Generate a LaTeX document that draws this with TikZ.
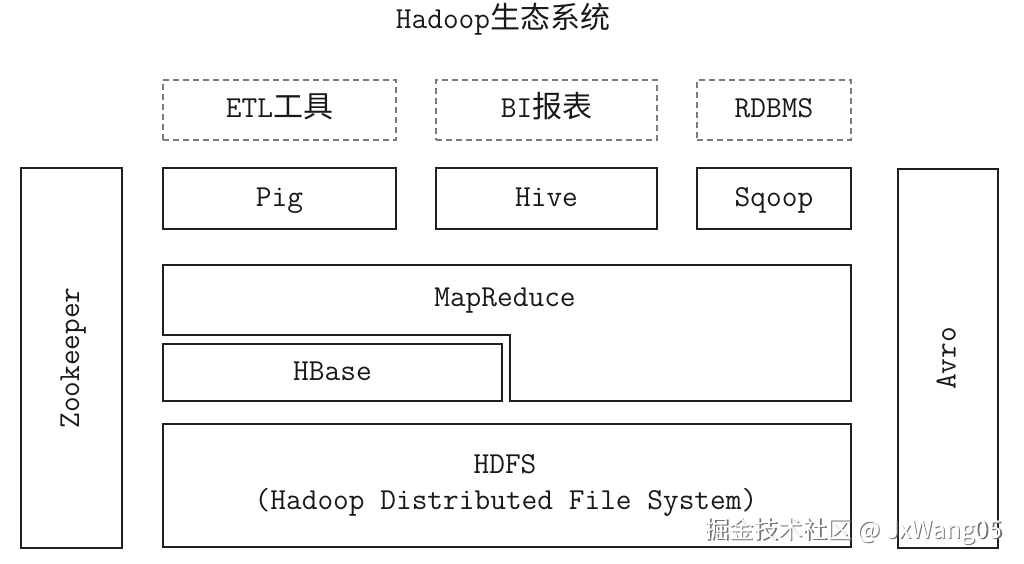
\documentclass[tikz,border=0pt]{standalone}
\usepackage{fontspec}
\newfontfamily\cjk{Noto Sans CJK SC}
\definecolor{linecol}{HTML}{202020}
\definecolor{dashcol}{HTML}{7A7A7A}
\tikzset{
  lbl/.style={font=\ttfamily\fontsize{30.5}{34}\selectfont, text=black!90, inner sep=0pt, text height=21pt, text depth=6pt},
  solidbox/.style={draw=linecol, line width=1.2pt, lbl},
  dashbox/.style={draw=dashcol, line width=1.3pt, dash pattern=on 6pt off 4pt, lbl},
}
\newcommand{\zh}[1]{{\cjk\fontsize{30}{34}\selectfont #1}}
\begin{document}
\begin{tikzpicture}[x=1pt,y=-1pt]
\useasboundingbox (0,0) rectangle (1024,564);
% title
\node[lbl] (title) at (503,21) {Hadoop\zh{生态系统}};
% top dashed row
\node[dashbox, minimum width=233pt, minimum height=60pt] (etl) at (279.5,110) {ETL\zh{工具}};
\node[dashbox, minimum width=221pt, minimum height=60pt] (bi) at (546.5,110) {BI\zh{报表}};
\node[dashbox, minimum width=154pt, minimum height=60pt] (rdbms) at (774,110) {RDBMS};
% second row
\node[solidbox, minimum width=233pt, minimum height=61pt] (pig) at (279.5,198.5) {Pig};
\node[solidbox, minimum width=221pt, minimum height=61pt] (hive) at (546.5,198.5) {Hive};
\node[solidbox, minimum width=154pt, minimum height=61pt] (sqoop) at (774,198.5) {Sqoop};
% side columns
\node[solidbox, minimum width=101pt, minimum height=380pt] (zk) at (71.5,358) {};
\node[lbl, rotate=90] (zklbl) at (zk.center) {Zookeeper};
\node[solidbox, minimum width=100pt, minimum height=379pt] (avro) at (948,358.5) {};
\node[lbl, rotate=90] (avrolbl) at (avro.center) {Avro};
% MapReduce (L-shaped)
\draw[draw=linecol, line width=1.2pt] (163,265) -- (851,265) -- (851,401) -- (510,401) -- (510,335) -- (163,335) -- cycle;
\node[lbl] (mr) at (505,299) {MapReduce};
% HBase
\node[solidbox, minimum width=339pt, minimum height=57pt] (hbase) at (332.5,372.5) {HBase};
% HDFS
\node[solidbox, minimum width=688pt, minimum height=123pt] (hdfs) at (507,485.5) {};
\node[lbl] (hdfs1) at (505,466) {HDFS};
\node[lbl] (hdfs2) at (506,502) {(Hadoop Distributed File System)};
% watermark
\node[text=black!55, font=\cjk\fontsize{24.5}{27}\selectfont, inner sep=0pt] (wmshadow) at (855,532.5) {掘金技术社区 @ JxWang05};
\node[text=white, font=\cjk\fontsize{24.5}{27}\selectfont, inner sep=0pt] (wm) at (853.5,531) {掘金技术社区 @ JxWang05};
\end{tikzpicture}
\end{document}
